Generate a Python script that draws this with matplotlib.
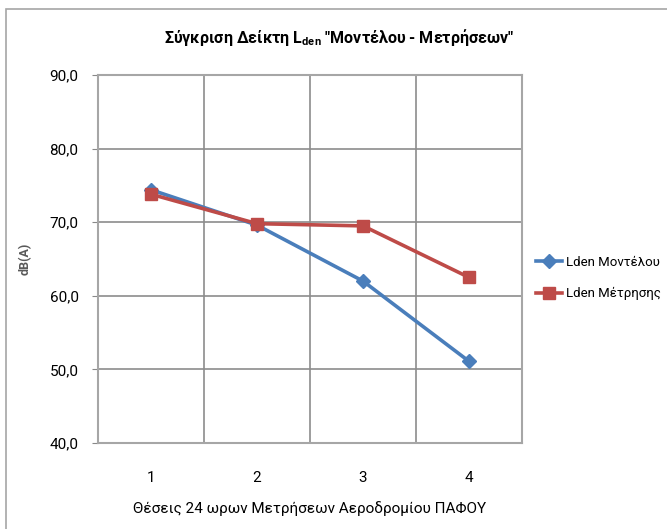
import matplotlib
matplotlib.use("Agg")
import matplotlib.pyplot as plt
from matplotlib import font_manager
from matplotlib.patches import Rectangle

names = {f.name for f in font_manager.fontManager.ttflist}
fam = [f for f in ["Roboto", "DejaVu Sans"] if f in names]
plt.rcParams["font.family"] = fam

positions = [1, 2, 3, 4]
tick_labels = ["1", "2", "3", "4"]
model_vals = [74.4, 69.6, 62.0, 51.1]
meas_vals = [73.8, 69.8, 69.5, 62.5]
series_names = ["Lden Μοντέλου", "Lden Μέτρησης"]
y_ticks = [40, 50, 60, 70, 80, 90]

fig = plt.figure(figsize=(6.67, 5.29), dpi=100)
fig.patches.append(Rectangle((6 / 667, -0.01), 1.1, 1 - 9 / 529 + 0.01,
                             transform=fig.transFigure, fill=False,
                             edgecolor="#a6a6a6", lw=1.2))
ax = fig.add_axes([98 / 667, 1 - 443 / 529, (522 - 98) / 667, (443 - 75) / 529])

blue = "#4A7EBB"
red = "#BE4B48"
ax.plot(positions, model_vals, color=blue, lw=2.6, marker="D", ms=7,
        label=series_names[0], zorder=3)
ax.plot(positions, meas_vals, color=red, lw=2.6, marker="s", ms=9,
        label=series_names[1], zorder=4)

ax.set_xlim(0.5, 4.5)
ax.set_ylim(40, 90)
ax.set_yticks(y_ticks)
ax.set_yticklabels([f"{v:.1f}".replace(".", ",") for v in y_ticks], fontsize=11)
ax.set_xticks(positions)
ax.set_xticklabels(tick_labels, fontsize=11)
ax.set_xticks([1.5, 2.5, 3.5], minor=True)
ax.tick_params(axis="x", which="both", length=0, pad=20)
ax.tick_params(axis="y", length=4, color="#888888", pad=10)
ax.grid(True, axis="y", color="#8c8c8c", lw=1.2)
ax.grid(True, axis="x", which="minor", color="#8c8c8c", lw=1.2)
for s in ax.spines.values():
    s.set_color("#a6a6a6")
    s.set_linewidth(1.5)

ax.set_ylabel("dB(A)", fontsize=9, color="#595959", fontweight="bold", labelpad=13)
ax.set_xlabel("Θέσεις 24 ωρων Μετρήσεων Αεροδρομίου ΠΑΦΟΥ", fontsize=11, labelpad=12)

fig.text(339 / 667, 1 - 37 / 529,
         "Σύγκριση Δείκτη L$_{\\mathregular{den}}$ \"Μοντέλου - Μετρήσεων\"",
         ha="center", va="center", fontsize=11.5, fontweight="bold")

fig.legend(loc="upper left", bbox_to_anchor=(524 / 667, 1 - 244 / 529),
           frameon=False, fontsize=9.5, handlelength=2.0, labelspacing=1.4,
           handletextpad=0.3)

fig.savefig("out.png", dpi=100)
